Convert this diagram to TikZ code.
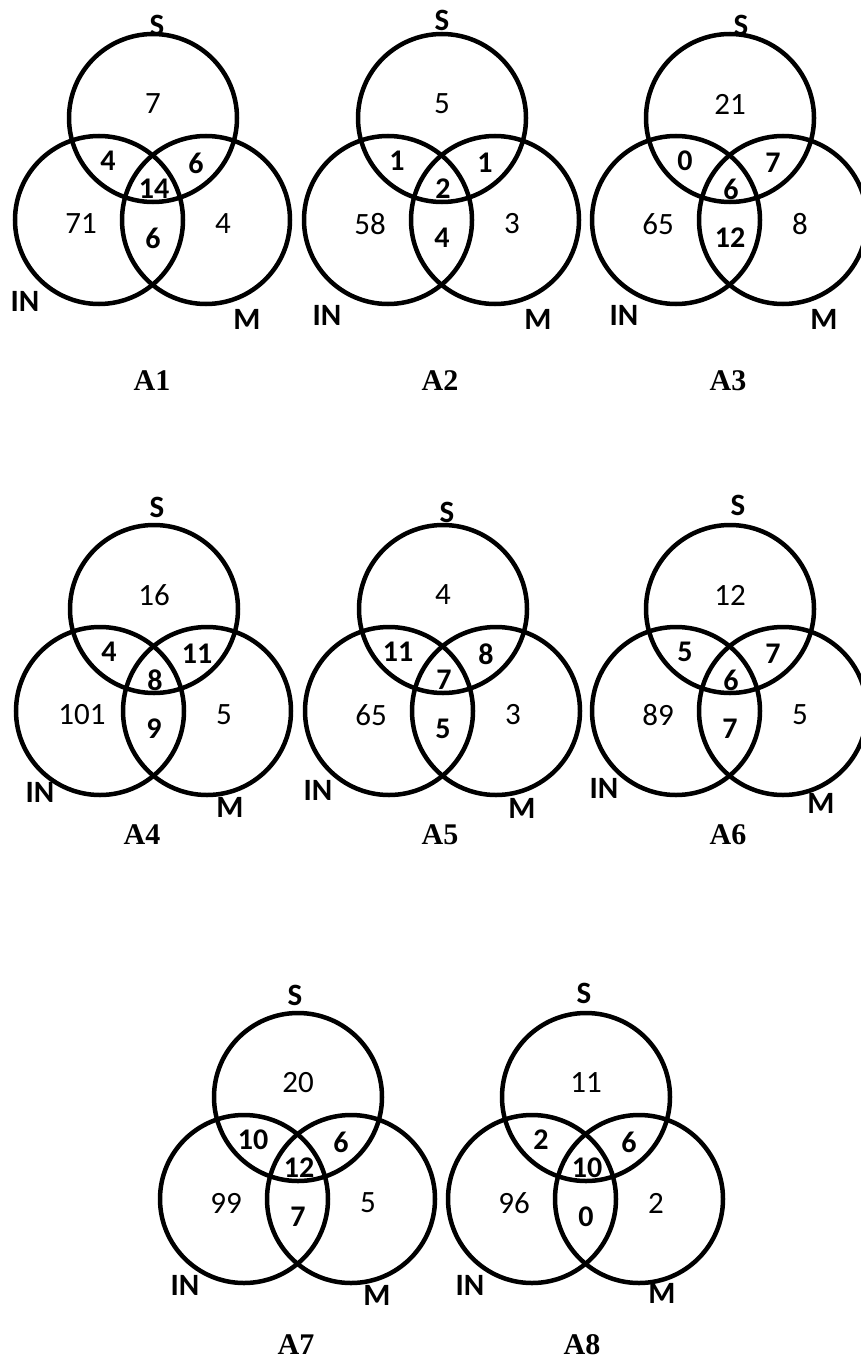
\documentclass[tikz,border=0pt]{standalone}
\usepackage{fontspec}
\newfontfamily\carl{Carlito}
\newfontfamily\tms{Liberation Serif}
\tikzset{
  setc/.style={draw=black, line width=4.5pt, circle, inner sep=0pt, minimum size=168pt},
  rnum/.style={inner sep=0pt, font=\carl\fontsize{31}{32}\selectfont},
  bnum/.style={inner sep=0pt, font=\carl\bfseries\fontsize{30}{32}\selectfont},
  setlab/.style={inner sep=0pt, font=\carl\bfseries\fontsize{31}{32}\selectfont},
  ptitle/.style={inner sep=0pt, font=\tms\bfseries\fontsize{30}{32}\selectfont}
}
% #1 name, #2 S only, #3 S&IN, #4 S&M, #5 all, #6 IN only, #7 IN&M, #8 M only; centre of S in \vx,\vy
\newcommand\vennpanel[8]{%
  \node[setc] (#1S) at (\vx,\vy) {};
  \node[setc] (#1I) at (\vx-54,\vy+102) {};
  \node[setc] (#1M) at (\vx+53,\vy+102) {};
  \node[rnum] (#1a) at (\vx,\vy-14) {#2};
  \node[bnum] (#1b) at (\vx-45,\vy+43) {#3};
  \node[bnum] (#1c) at (\vx+43,\vy+45) {#4};
  \node[bnum] (#1d) at (\vx+1,\vy+71) {#5};
  \node[rnum] (#1e) at (\vx-72,\vy+106) {#6};
  \node[bnum] (#1f) at (\vx,\vy+120) {#7};
  \node[rnum] (#1g) at (\vx+70,\vy+106) {#8};
}
\begin{document}
\begin{tikzpicture}[x=1pt,y=-1pt]
\useasboundingbox (0,0) rectangle (861,1367);
% Row 1
\def\vx{153}\def\vy{118}\vennpanel{a1}{7}{4}{6}{14}{71}{6}{4}
\node[setlab] (a1ls) at (157,25) {S};
\node[setlab] (a1li) at (25,301) {IN};
\node[setlab] (a1lm) at (247,319) {M};
\node[ptitle] (a1t) at (152,381) {A1};
\def\vx{442}\def\vy{118}\vennpanel{a2}{5}{1}{1}{2}{58}{4}{3}
\node[setlab] (a2ls) at (442,20) {S};
\node[setlab] (a2li) at (327,315) {IN};
\node[setlab] (a2lm) at (538,319) {M};
\node[ptitle] (a2t) at (440,381) {A2};
\def\vx{730}\def\vy{118}\vennpanel{a3}{21}{0}{7}{6}{65}{12}{8}
\node[setlab] (a3ls) at (741,25) {S};
\node[setlab] (a3li) at (624,315) {IN};
\node[setlab] (a3lm) at (824,319) {M};
\node[ptitle] (a3t) at (728,381) {A3};
% Row 2
\def\vx{154}\def\vy{609}\vennpanel{a4}{16}{4}{11}{8}{101}{9}{5}
\node[setlab] (a4ls) at (157,507) {S};
\node[setlab] (a4li) at (40,792) {IN};
\node[setlab] (a4lm) at (230,807) {M};
\node[ptitle] (a4t) at (142,835) {A4};
\def\vx{443}\def\vy{609}\vennpanel{a5}{4}{11}{8}{7}{65}{5}{3}
\node[setlab] (a5ls) at (447,512) {S};
\node[setlab] (a5li) at (318,790) {IN};
\node[setlab] (a5lm) at (522,808) {M};
\node[ptitle] (a5t) at (440,835) {A5};
\def\vx{730}\def\vy{609}\vennpanel{a6}{12}{5}{7}{6}{89}{7}{5}
\node[setlab] (a6ls) at (738,505) {S};
\node[setlab] (a6li) at (604,788) {IN};
\node[setlab] (a6lm) at (821,803) {M};
\node[ptitle] (a6t) at (728,835) {A6};
% Row 3
\def\vx{298}\def\vy{1097}\vennpanel{a7}{20}{10}{6}{12}{99}{7}{5}
\node[setlab] (a7ls) at (295,995) {S};
\node[setlab] (a7li) at (185,1285) {IN};
\node[setlab] (a7lm) at (377,1295) {M};
\node[ptitle] (a7t) at (296,1345) {A7};
\def\vx{586}\def\vy{1097}\vennpanel{a8}{11}{2}{6}{10}{96}{0}{2}
\node[setlab] (a8ls) at (584,993) {S};
\node[setlab] (a8li) at (470,1285) {IN};
\node[setlab] (a8lm) at (662,1293) {M};
\node[ptitle] (a8t) at (582,1345) {A8};
\end{tikzpicture}
\end{document}
